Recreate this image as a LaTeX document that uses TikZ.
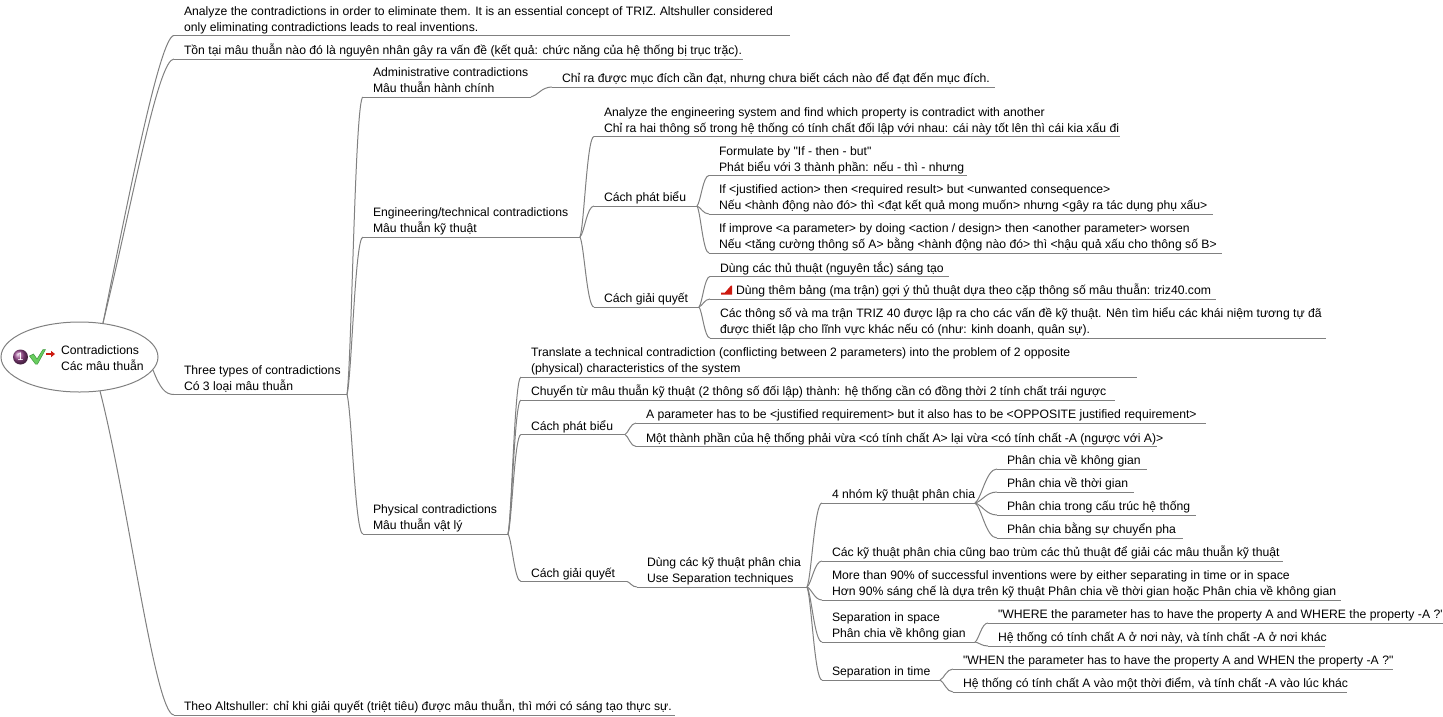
\documentclass[tikz,border=0pt]{standalone}
\usepackage{fontspec}
\setmainfont[Ligatures=TeXOff]{Liberation Sans}
\usetikzlibrary{calc,shapes.geometric}
\definecolor{priopurple}{RGB}{150,70,140}
\definecolor{checkgreen}{RGB}{105,205,95}
\definecolor{checkedge}{RGB}{60,150,60}
\definecolor{flagred}{RGB}{205,25,15}
\tikzset{
	topic/.style={anchor=south west, align=left, inner xsep=10pt, inner ysep=1.5pt, outer sep=0pt, text depth=3pt, font=\fontsize{12.2}{16}\selectfont, text=black},
	branch/.style={draw=black!50, line width=1pt},
	link/.style={branch, to path={let \p1=(\tikztostart), \p2=(\tikztotarget) in .. controls ({\x1+0.3*(\x2-\x1)},{\y1+0.12*(\y2-\y1)}) and ({\x1+0.5*(\x2-\x1)},\y2) .. (\tikztotarget)}},
}
\def\topic(#1)(#2:#3:#4)#5{\node[topic] (#1) at (#2,#4) {#5}; \draw[branch] (#1.south west) -- (#3,#4) coordinate (#1e);}
\def\linkto(#1)(#2){\draw[link] (#1e) to (#2.south west);}

\begin{document}
\begin{tikzpicture}[x=1pt,y=-1pt]
	\useasboundingbox (0,0) rectangle (1443,716);
	%%%%% ROOT %%%%%
	\node[branch, ellipse, minimum width=157pt, minimum height=70pt, inner sep=0pt] (root) at (79.5,357) {};
	\node[topic, anchor=base west, inner sep=0pt, text depth=0pt] (roottext) at (61,370) {Contradictions\\Các mâu thuẫn};
	\node[circle, inner sep=0pt, minimum size=15pt, ball color=priopurple, text=white, font=\fontsize{11}{11}\selectfont] (prio) at (20.5,357) {1};
	\draw[line width=0.5pt, draw=checkedge, fill=checkgreen] (29.5,356) -- (33.5,354) -- (37,359) -- (43,349.5) -- (45.5,349.5) -- (37.5,364) -- (35.5,364) -- cycle;
	\fill[flagred] (46,353.2) -- (51,353.2) -- (51,350.8) -- (55,354) -- (51,357.2) -- (51,354.8) -- (46,354.8) -- cycle;

	%%%%% FIRST LEVEL %%%%%
	\topic(analyze)(174:790:35.5){Analyze the contradictions in order to eliminate them. It is an essential concept of TRIZ. Altshuller considered\\only eliminating contradictions leads to real inventions.}
	\topic(cause)(174:743:59){Tồn tại mâu thuẫn nào đó là nguyên nhân gây ra vấn đề (kết quả: chức năng của hệ thống bị trục trặc).}
	\topic(three)(174:347:394.5){Three types of contradictions\\Có 3 loại mâu thuẫn}
	\topic(theo)(174:675:715){Theo Altshuller: chỉ khi giải quyết (triệt tiêu) được mâu thuẫn, thì mới có sáng tạo thực sự.}
	\draw[branch] (103,323) .. controls (128,200) and (160,35.5) .. (analyze.south west);
	\draw[branch] (103,323) .. controls (133,200) and (158,59) .. (cause.south west);
	\draw[branch] (153,370) .. controls (160,388) and (165,394.5) .. (three.south west);
	\draw[branch] (100,391) .. controls (128,500) and (155,715) .. (theo.south west);

	%%%%% THREE TYPES %%%%%
	\topic(admin)(363:531:97){Administrative contradictions\\Mâu thuẫn hành chính}
	\topic(engin)(363:580:237){Engineering/technical contradictions\\Mâu thuẫn kỹ thuật}
	\topic(phys)(363:508:534){Physical contradictions\\Mâu thuẫn vật lý}
	\linkto(three)(admin)
	\linkto(three)(engin)
	\linkto(three)(phys)
	\topic(goal)(552:995:87){Chỉ ra được mục đích cần đạt, nhưng chưa biết cách nào để đạt đến mục đích.}
	\linkto(admin)(goal)

	%%%%% ENGINEERING %%%%%
	\topic(enga)(594:1120:136.5){Analyze the engineering system and find which property is contradict with another\\Chỉ ra hai thông số trong hệ thống có tính chất đối lập với nhau: cái này tốt lên thì cái kia xấu đi}
	\topic(engb)(594:697:206){Cách phát biểu}
	\topic(engc)(594:699:307){Cách giải quyết}
	\linkto(engin)(enga)
	\linkto(engin)(engb)
	\linkto(engin)(engc)
	\topic(forma)(709:967:175.5){Formulate by "If - then - but"\\Phát biểu với 3 thành phần: nếu - thì - nhưng}
	\topic(formb)(709:1213:214){If <justified action> then <required result> but <unwanted consequence>\\Nếu <hành động nào đó> thì <đạt kết quả mong muốn> nhưng <gây ra tác dụng phụ xấu>}
	\topic(formc)(709:1222:253){If improve <a parameter> by doing <action / design> then <another parameter> worsen\\Nếu <tăng cường thông số A> bằng <hành động nào đó> thì <hậu quả xấu cho thông số B>}
	\linkto(engb)(forma)
	\linkto(engb)(formb)
	\linkto(engb)(formc)
	\topic(solva)(710:949:276.5){Dùng các thủ thuật (nguyên tắc) sáng tạo}
	\topic(solvb)(710:1216:299){\hspace{16pt}Dùng thêm bảng (ma trận) gợi ý thủ thuật dựa theo cặp thông số mâu thuẫn: triz40.com}
	\topic(solvc)(710:1326:338){Các thông số và ma trận TRIZ 40 được lập ra cho các vấn đề kỹ thuật. Nên tìm hiểu các khái niệm tương tự đã\\được thiết lập cho lĩnh vực khác nếu có (như: kinh doanh, quân sự).}
	\linkto(engc)(solva)
	\linkto(engc)(solvb)
	\linkto(engc)(solvc)
	\fill[flagred] (721,292.5) -- (725,292.5) -- (731,285.5) -- (732,285.5) -- (732,294.5) -- (721,294.5) -- cycle;

	%%%%% PHYSICAL %%%%%
	\topic(physa)(521:1137:377){Translate a technical contradiction (conflicting between 2 parameters) into the problem of 2 opposite\\(physical) characteristics of the system}
	\topic(physb)(521:1115:400){Chuyển từ mâu thuẫn kỹ thuật (2 thông số đối lập) thành: hệ thống cần có đồng thời 2 tính chất trái ngược}
	\topic(physc)(521:625:434.5){Cách phát biểu}
	\topic(physd)(521:627:581.5){Cách giải quyết}
	\linkto(phys)(physa)
	\linkto(phys)(physb)
	\linkto(phys)(physc)
	\linkto(phys)(physd)
	\topic(parama)(636:1206:423){A parameter has to be <justified requirement> but it also has to be <OPPOSITE justified requirement>}
	\topic(paramb)(636:1157:446.5){Một thành phần của hệ thống phải vừa <có tính chất A> lại vừa <có tính chất -A (ngược với A)>}
	\linkto(physc)(parama)
	\linkto(physc)(paramb)
	\topic(sep)(637:807:587){Dùng các kỹ thuật phân chia\\Use Separation techniques}
	\linkto(physd)(sep)

	%%%%% SEPARATION %%%%%
	\topic(four)(822:975:503){4 nhóm kỹ thuật phân chia}
	\topic(cover)(822:1283:561){Các kỹ thuật phân chia cũng bao trùm các thủ thuật để giải các mâu thuẫn kỹ thuật}
	\topic(more)(822:1341:600){More than 90\% of successful inventions were by either separating in time or in space\\Hơn 90\% sáng chế là dựa trên kỹ thuật Phân chia về thời gian hoặc Phân chia về không gian}
	\topic(space)(822:975:642){Separation in space\\Phân chia về không gian}
	\topic(time)(822:940:680){Separation in time}
	\foreach \kid in {four,cover,more,space,time}{\linkto(sep)(\kid)}
	\topic(foura)(997:1147:469){Phân chia về không gian}
	\topic(fourb)(997:1134:492){Phân chia về thời gian}
	\topic(fourc)(997:1196:515){Phân chia trong cấu trúc hệ thống}
	\topic(fourd)(997:1183:538){Phân chia bằng sự chuyển pha}
	\foreach \kid in {foura,fourb,fourc,fourd}{\linkto(four)(\kid)}
	\topic(where)(988:1443:623){"WHERE the parameter has to have the property A and WHERE the property -A ?"}
	\topic(whereb)(988:1325:646){Hệ thống có tính chất A ở nơi này, và tính chất -A ở nơi khác}
	\linkto(space)(where)
	\linkto(space)(whereb)
	\topic(when)(953:1393:669){"WHEN the parameter has to have the property A and WHEN the property -A ?"}
	\topic(whenb)(953:1347:692){Hệ thống có tính chất A vào một thời điểm, và tính chất -A vào lúc khác}
	\linkto(time)(when)
	\linkto(time)(whenb)
\end{tikzpicture}
\end{document}
